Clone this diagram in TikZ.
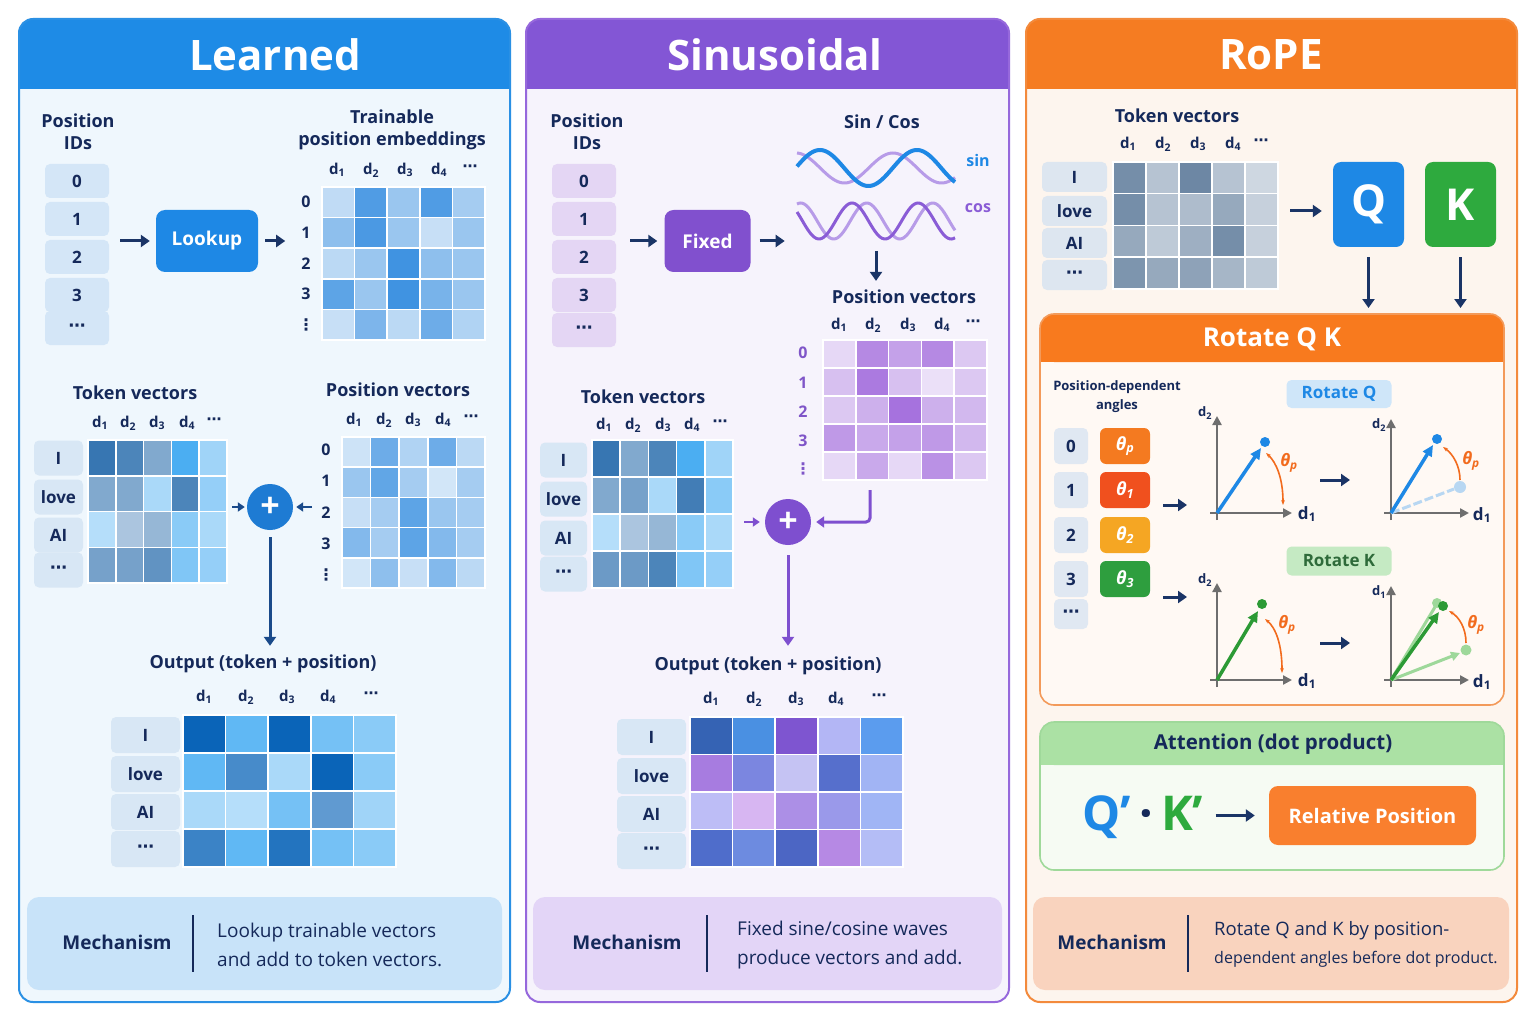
\documentclass[tikz,border=0pt]{standalone}
\usepackage{fontspec}
\setmainfont{Open Sans}
\newfontfamily\symf{DejaVu Sans}
\usetikzlibrary{arrows.meta,calc}

\definecolor{navy}{HTML}{15295A}
\definecolor{arrnavy}{HTML}{1A3466}
\definecolor{lhead}{HTML}{1E8BE6}
\definecolor{lborder}{HTML}{2A90E4}
\definecolor{lpanel}{HTML}{EFF7FD}
\definecolor{lproc}{HTML}{1E88E5}
\definecolor{lplus}{HTML}{1E7BD3}
\definecolor{larrow}{HTML}{1A4A8A}
\definecolor{idL}{HTML}{D4E6F7}
\definecolor{tokbox}{HTML}{D8E7F5}
\definecolor{mechL}{HTML}{C8E3F9}
\definecolor{phead}{HTML}{8356D5}
\definecolor{pborder}{HTML}{9668DC}
\definecolor{ppanel}{HTML}{F6F3FC}
\definecolor{pproc}{HTML}{8150CE}
\definecolor{idP}{HTML}{E4D6F4}
\definecolor{ppl}{HTML}{7E4FCF}
\definecolor{prow}{HTML}{7F55C8}
\definecolor{mechP}{HTML}{E3D5F7}
\definecolor{sinblue}{HTML}{1E88E5}
\definecolor{wlight}{HTML}{B79BE8}
\definecolor{wdark}{HTML}{8A5CD6}
\definecolor{rhead}{HTML}{F57C22}
\definecolor{rborder}{HTML}{F38A3C}
\definecolor{rpanel}{HTML}{FDF5EE}
\definecolor{rtokbox}{HTML}{DDE6F0}
\definecolor{qblue}{HTML}{1E88E5}
\definecolor{kgreen}{HTML}{2EAA3E}
\definecolor{rotbody}{HTML}{FFF9F4}
\definecolor{rothead}{HTML}{F87A1E}
\definecolor{rotborder}{HTML}{F39A5A}
\definecolor{ridbox}{HTML}{E0E8F2}
\definecolor{th0}{HTML}{F47A20}
\definecolor{th1}{HTML}{F0501E}
\definecolor{th2}{HTML}{F5A623}
\definecolor{th3}{HTML}{2E9E3E}
\definecolor{rqfill}{HTML}{CFE6F9}
\definecolor{rkfill}{HTML}{C5EAC3}
\definecolor{rktext}{HTML}{2E6B3A}
\definecolor{axgrey}{HTML}{6E6E6E}
\definecolor{thorange}{HTML}{F26B1D}
\definecolor{qfaint}{HTML}{B8D7F2}
\definecolor{kdark}{HTML}{2C9A35}
\definecolor{kfaint}{HTML}{9ED89A}
\definecolor{atthead}{HTML}{ABE1A4}
\definecolor{attbody}{HTML}{F6FBF3}
\definecolor{attborder}{HTML}{9FD99A}
\definecolor{relorange}{HTML}{F97F2E}
\definecolor{mechR}{HTML}{F9D3BE}
% heat-map base colours
\definecolor{d}{HTML}{1E80DC}
\definecolor{s}{HTML}{2D6FAE}
\definecolor{b}{HTML}{2BA0F0}
\definecolor{o}{HTML}{0A64B8}
\definecolor{p}{HTML}{9C62DA}
\definecolor{g}{HTML}{5D7A9A}
% sinusoidal output colours
\definecolor{so0}{HTML}{3563B4}\definecolor{so1}{HTML}{4A90E2}\definecolor{so2}{HTML}{7E55D0}\definecolor{so3}{HTML}{B3B6F5}\definecolor{so4}{HTML}{5B9CEE}
\definecolor{so5}{HTML}{A77CE0}\definecolor{so6}{HTML}{7B86E0}\definecolor{so7}{HTML}{C5C3F3}\definecolor{so8}{HTML}{566FCC}\definecolor{so9}{HTML}{A1B4F4}
\definecolor{so10}{HTML}{BDBDF6}\definecolor{so11}{HTML}{D7B6F2}\definecolor{so12}{HTML}{AC8FE6}\definecolor{so13}{HTML}{9A99EA}\definecolor{so14}{HTML}{A0B5F5}
\definecolor{so15}{HTML}{4F6DCB}\definecolor{so16}{HTML}{6D8BE0}\definecolor{so17}{HTML}{4C66C4}\definecolor{so18}{HTML}{B689E4}\definecolor{so19}{HTML}{B4BDF6}

\newcommand\dsub[1]{d\textsubscript{#1}}
\newcommand\vdt{{\symf\bfseries ⋮}}
\newcommand\hdt{{\symf\bfseries ⋯}}

% heat grid: name, x0, y0, w, h, ncols, nrows, colour list
\newcommand\heat[8]{%
  \node[inner sep=0, outer sep=0, minimum width=#4, minimum height=#5, anchor=north west] (#1) at (#2,#3) {};
  \foreach \c [count=\i from 0] in {#8} {%
    \pgfmathtruncatemacro\cc{mod(\i,#6)}%
    \pgfmathtruncatemacro\rr{div(\i,#6)}%
    \filldraw[fill=\c, draw=white, line width=1.5] ({#2+\cc*#4/#6},{#3+\rr*#5/#7}) rectangle ++({#4/#6},{#5/#7});
  }}
% column labels: name, y, x1..x5
\newcommand\dcols[7]{%
  \node[dlab] (#1-1) at (#3,#2) {\dsub1};
  \node[dlab] (#1-2) at (#4,#2) {\dsub2};
  \node[dlab] (#1-3) at (#5,#2) {\dsub3};
  \node[dlab] (#1-4) at (#6,#2) {\dsub4};
  \node[dlab] (#1-5) at (#7,{#2-2}) {\hdt};}
% panel: x1, x2, fill, header, border
\newcommand\mypanel[5]{%
  \fill[#3, rounded corners=14] (#1,19) rectangle (#2,1002);
  \fill[#4, rounded corners=14] (#1,19) rectangle (#2,89);
  \fill[#4] (#1,70) rectangle (#2,89);
  \draw[#5, line width=2, rounded corners=14] (#1,19) rectangle (#2,1002);}

\tikzset{
  title/.style={font=\fontsize{42}{48}\selectfont\bfseries, text=white, inner sep=0},
  lbl/.style={font=\fontsize{18}{22}\selectfont\bfseries, text=navy, align=center, inner sep=0},
  dlab/.style={font=\fontsize{15}{18}\selectfont\bfseries, text=navy, inner sep=0},
  rlab/.style={font=\fontsize{16}{18}\selectfont\bfseries, text=navy, inner sep=0},
  idbox/.style={rounded corners=5, minimum width=64, minimum height=34, font=\fontsize{17}{20}\selectfont\bfseries, text=navy, inner sep=0},
  proc/.style={rounded corners=9, font=\fontsize{19}{24}\selectfont\bfseries, text=white, inner sep=0},
  darr/.style={draw=arrnavy, line width=3, -{Triangle[length=9pt,width=12pt]}},
  sarr/.style={line width=2.5, -{Triangle[length=7pt,width=9pt]}},
  plusnode/.style={circle, minimum size=46, inner sep=0, text=white, font=\fontsize{34}{34}\selectfont\bfseries},
  mechh/.style={font=\fontsize{19}{23}\selectfont\bfseries, text=navy, inner sep=0},
  mecht/.style={font=\fontsize{19}{29}\selectfont, text=navy, align=left, inner sep=0, anchor=west},
  axis/.style={draw=axgrey, line width=2.2, -{Triangle[length=9pt,width=9pt]}},
  axl/.style={font=\fontsize{17}{20}\selectfont\bfseries, text=navy, inner sep=0},
  axs/.style={font=\fontsize{13}{15}\selectfont\bfseries, text=navy, inner sep=0},
  thl/.style={font=\fontsize{17}{20}\selectfont\bfseries\itshape, text=thorange, inner sep=0},
  thbox/.style={rounded corners=6, minimum width=50, minimum height=36, inner sep=0, text=white, font=\fontsize{18}{20}\selectfont\bfseries\itshape},
  thcurve/.style={draw=thorange, line width=1.6},
}

\begin{document}
\begin{tikzpicture}[x=1pt,y=-1pt]
\useasboundingbox (0,0) rectangle (1536,1024);
\fill[white] (0,0) rectangle (1536,1024);

% ================= PANELS =================
\mypanel{19}{510}{lpanel}{lhead}{lborder}
\mypanel{526}{1009}{ppanel}{phead}{pborder}
\mypanel{1026}{1517}{rpanel}{rhead}{rborder}
\node[title] (t-l) at (275,55) {Learned};
\node[title] (t-s) at (775,55) {Sinusoidal};
\node[title] (t-r) at (1271,55) {RoPE};

% ================= LEARNED =================
\node[lbl] (l-pidt) at (78,132) {Position\\IDs};
\foreach \t/\y [count=\i from 0] in {0/181,1/219,2/257,3/295,\hdt/328}
  \node[idbox, fill=idL] (l-id\i) at (77,\y) {\t};
\node[proc, fill=lproc, minimum width=102, minimum height=62] (l-look) at (207,241) {Lookup};
\coordinate (l-a0) at (120,241);
\draw[darr, shorten >=6] (l-a0) -- (l-look.west);
\draw[darr, shorten <=7] (l-look.east) -- ++(27,0);
\node[lbl] (l-tpet) at (392,130) {Trainable\\position embeddings};
\dcols{l-tc}{170}{337}{371}{405}{439}{470}
\heat{l-tpe}{322}{187}{163}{153}{5}{5}{d!28,d!78,d!45,d!78,d!40, d!50,d!80,d!45,d!25,d!45, d!30,d!45,d!85,d!50,d!45, d!72,d!45,d!85,d!60,d!45, d!25,d!58,d!30,d!65,d!35}
\foreach \t/\y [count=\i] in {0/202,1/233,2/264,3/294}
  \node[rlab] (l-tr\i) at (306,\y) {\t};
\node[rlab] (l-tr5) at (306,325) {\vdt};

\node[lbl] (l-tokt) at (135,393) {Token vectors};
\dcols{l-kc}{423}{100}{128}{157}{187}{214}
\foreach \t/\y [count=\i] in {I/458,love/497,AI/535,\hdt/570}
  \node[idbox, fill=tokbox, minimum width=49, minimum height=35] (l-tk\i) at (58.5,\y) {\t};
\heat{l-tok}{88}{440}{139}{143}{5}{4}{s!95,s!85,s!60,b!85,b!45, s!60,s!60,b!40,s!85,b!50, b!35,s!40,s!50,b!55,b!40, s!65,s!65,s!75,b!60,b!50}

\node[plusnode, fill=lplus] (l-plus) at (270,507) {+};
\draw[sarr, draw=larrow, shorten >=2] ($(l-tok.east|-l-plus)+(5,0)$) -- (l-plus.west);
\draw[sarr, draw=larrow, shorten >=3] ($(l-plus.east)+(19,0)$) -- (l-plus.east);

\node[lbl] (l-post) at (398,390) {Position vectors};
\dcols{l-pc}{420}{354}{384}{413}{443}{471}
\heat{l-pos}{342}{437}{143}{151}{5}{5}{d!22,d!65,d!35,d!65,d!30, d!45,d!70,d!40,d!20,d!40, d!25,d!40,d!72,d!45,d!40, d!55,d!40,d!72,d!55,d!40, d!20,d!50,d!25,d!55,d!30}
\foreach \t/\y [count=\i] in {0/450,1/481,2/513,3/544}
  \node[rlab] (l-pr\i) at (326,\y) {\t};
\node[rlab] (l-pr5) at (326,575) {\vdt};

\node[lbl] (l-outt) at (263,664) {Output (token + position)};
\draw[draw=larrow, line width=3, -{Triangle[length=9pt,width=12pt]}, shorten <=7, shorten >=9] (l-plus.south) -- (l-plus.south |- l-outt.north);
\dcols{l-oc}{697}{204}{246}{287}{328}{371}
\foreach \t/\y [count=\i] in {I/735,love/774,AI/812,\hdt/849}
  \node[idbox, fill=tokbox, minimum width=69, minimum height=36] (l-ok\i) at (145.5,\y) {\t};
\heat{l-out}{183}{715}{213}{152}{5}{4}{o!100,b!75,o!100,b!65,b!55, b!75,o!75,b!40,o!100,b!55, b!40,b!35,b!65,o!65,b!45, o!80,b!75,o!90,b!65,b!55}

\fill[mechL, rounded corners=12] (27,897) rectangle (502,990);
\node[mechh] (l-mech) at (117,942) {Mechanism};
\draw[navy, line width=2] (193,915) -- (193,972);
\node[mecht] (l-mtxt) at (217,945) {Lookup trainable vectors\\and add to token vectors.};

% ================= SINUSOIDAL =================
\node[lbl] (s-pidt) at (587,132) {Position\\IDs};
\foreach \t/\y [count=\i from 0] in {0/181,1/219,2/257,3/295,\hdt/330}
  \node[idbox, fill=idP] (s-id\i) at (584,\y) {\t};
\node[proc, fill=pproc, minimum width=86, minimum height=62] (s-fix) at (707.5,241) {Fixed};
\coordinate (s-a0) at (630,241);
\draw[darr, shorten >=7] (s-a0) -- (s-fix.west);
\draw[darr, shorten <=9] (s-fix.east) -- ++(34,0);
\node[lbl] (s-sct) at (882,122) {Sin / Cos};
% waves
\draw[wlight, line width=3] plot[domain=797:955, samples=90, smooth] (\x,{168-15*sin((\x-797)*3.71+94)});
\draw[sinblue, line width=4] plot[domain=797:955, samples=90, smooth] (\x,{168-18*sin((\x-797)*3.71+5)});
\draw[wlight, line width=3] plot[domain=797:955, samples=90, smooth] (\x,{221-18*sin((\x-797)*5.45+70)});
\draw[wdark, line width=3] plot[domain=797:955, samples=90, smooth] (\x,{221-18*sin((\x-797)*5.45+150)});
\node[font=\fontsize{16}{18}\selectfont\bfseries, text=sinblue, inner sep=0] (s-sin) at (978,161) {sin};
\node[font=\fontsize{16}{18}\selectfont\bfseries, text=wdark, inner sep=0] (s-cos) at (978,208) {cos};
\coordinate (s-wv) at (876,251);
\node[lbl] (s-post) at (904,297) {Position vectors};
\draw[darr, shorten >=9] (s-wv) -- (s-wv |- s-post.north);
\dcols{s-pc}{325}{839}{873}{908}{942}{973}
\heat{s-pos}{823}{340}{164}{140}{5}{5}{p!25,p!75,p!60,p!75,p!35, p!40,p!85,p!40,p!20,p!35, p!35,p!50,p!90,p!50,p!45, p!65,p!55,p!60,p!65,p!45, p!25,p!55,p!25,p!70,p!35}
\foreach \t/\y [count=\i] in {0/353,1/383,2/412,3/441}
  \node[rlab, text=prow] (s-pr\i) at (803,\y) {\t};
\node[rlab, text=prow] (s-pr5) at (803,469) {\vdt};

\node[lbl] (s-tokt) at (643,397) {Token vectors};
\dcols{s-kc}{425}{604}{633}{663}{692}{720}
\foreach \t/\y [count=\i] in {I/460,love/499,AI/538,\hdt/574}
  \node[idbox, fill=tokbox, minimum width=47, minimum height=35] (s-tk\i) at (563.5,\y) {\t};
\heat{s-tok}{592}{440}{141}{148}{5}{4}{s!95,s!60,s!85,b!85,b!45, s!60,s!65,b!40,s!90,b!55, b!35,s!40,s!50,b!55,b!40, s!70,s!70,s!85,b!60,b!50}

\node[plusnode, fill=ppl] (s-plus) at (788,522) {+};
\draw[sarr, draw=ppl, shorten >=5] ($(s-tok.east|-s-plus)+(11,0)$) -- (s-plus.west);
\coordinate (s-e0) at (870,490);
\draw[draw=ppl, line width=3, -{Triangle[length=8pt,width=11pt]}, rounded corners=4, shorten >=5] (s-e0) |- (s-plus.east);

\node[lbl] (s-outt) at (768,666) {Output (token + position)};
\draw[draw=ppl, line width=3, -{Triangle[length=9pt,width=12pt]}, shorten <=10, shorten >=11] (s-plus.south) -- (s-plus.south |- s-outt.north);
\dcols{s-oc}{699}{711}{754}{796}{836}{879}
\foreach \t/\y [count=\i] in {I/737,love/776,AI/814,\hdt/851}
  \node[idbox, fill=tokbox, minimum width=69, minimum height=36] (s-ok\i) at (651.5,\y) {\t};
\heat{s-out}{690}{717}{213}{150}{5}{4}{so0,so1,so2,so3,so4,so5,so6,so7,so8,so9,so10,so11,so12,so13,so14,so15,so16,so17,so18,so19}

\fill[mechP, rounded corners=12] (533,897) rectangle (1002,990);
\node[mechh] (s-mech) at (627,942) {Mechanism};
\draw[navy, line width=2] (707,915) -- (707,972);
\node[mecht] (s-mtxt) at (737,945) {Fixed sine/cosine waves\\produce vectors and add.};

% ================= RoPE =================
\node[lbl] (r-tokt) at (1177,116) {Token vectors};
\dcols{r-kc}{144}{1128}{1163}{1198}{1233}{1261}
\foreach \t/\y [count=\i] in {I/177,love/211,AI/243,\hdt/275}
  \node[idbox, fill=rtokbox, minimum width=65, minimum height=30] (r-tk\i) at (1074.5,\y) {\t};
\heat{r-tok}{1113}{162}{165}{127}{5}{4}{g!85,g!45,g!90,g!45,g!30, g!85,g!45,g!50,g!65,g!35, g!65,g!40,g!60,g!85,g!35, g!80,g!65,g!70,g!55,g!40}

\node[rounded corners=8, minimum width=71, minimum height=85, inner sep=0, fill=qblue, text=white, font=\fontsize{44}{48}\selectfont\bfseries] (r-q) at (1368.5,204.5) {Q};
\node[rounded corners=8, minimum width=71, minimum height=85, inner sep=0, fill=kgreen, text=white, font=\fontsize{44}{48}\selectfont\bfseries] (r-k) at (1460.5,204.5) {K};
\coordinate (r-a0) at (1290,211);
\draw[darr, shorten >=11] (r-a0) -- (r-q.west |- r-a0);

% rotate box
\node[inner sep=0, minimum width=464, minimum height=391, anchor=north west] (r-rot) at (1040,314) {};
\fill[rotbody, rounded corners=14] (1040,314) rectangle (1504,705);
\fill[rothead, rounded corners=14] (1040,314) rectangle (1504,362);
\fill[rothead] (1040,345) rectangle (1504,362);
\draw[rotborder, line width=1.6, rounded corners=14] (1040,314) rectangle (1504,705);
\node[font=\fontsize{26}{30}\selectfont\bfseries, text=white, inner sep=0] (r-rott) at (1272,339) {Rotate Q K};
\draw[darr, shorten <=10, shorten >=6] (r-q.south) -- (r-q.south |- r-rot.north);
\draw[darr, shorten <=10, shorten >=6] (r-k.south) -- (r-k.south |- r-rot.north);

\node[font=\fontsize{13}{19}\selectfont\bfseries, text=navy, align=center, inner sep=0] (r-pda) at (1117,397) {Position-dependent\\angles};
\foreach \t/\y [count=\i] in {0/446,1/490,2/535,3/579}
  \node[idbox, fill=ridbox, minimum width=34, minimum height=36] (r-id\i) at (1071,\y) {\t};
\node[idbox, fill=ridbox, minimum width=34, minimum height=30] (r-id5) at (1071,614) {\hdt};
\node[thbox, fill=th0] (r-th0) at (1125,446) {θ\textsubscript{p}};
\node[thbox, fill=th1] (r-th1) at (1125,490) {θ\textsubscript{1}};
\node[thbox, fill=th2] (r-th2) at (1125,535) {θ\textsubscript{2}};
\node[thbox, fill=th3] (r-th3) at (1125,579) {θ\textsubscript{3}};
\coordinate (r-a1) at (1163,505);
\coordinate (r-a2) at (1163,597);
\draw[darr] (r-a1) -- ++(24,0);
\draw[darr] (r-a2) -- ++(24,0);

\node[rounded corners=5, fill=rqfill, minimum width=105, minimum height=28, inner sep=0, text=qblue, font=\fontsize{17}{20}\selectfont\bfseries] (r-rq) at (1339,394) {Rotate Q};
\node[rounded corners=5, fill=rkfill, minimum width=105, minimum height=29, inner sep=0, text=rktext, font=\fontsize{17}{20}\selectfont\bfseries] (r-rk) at (1339,561) {Rotate K};

% plot 1 (Q before)
\coordinate (p1) at (1217,513);
\draw[axis] ($(p1)+(-7,0)$) -- (1292,513);
\draw[axis] ($(p1)+(0,7)$) -- (1217,416);
\node[axs] (p1-y) at (1205,413) {\dsub2};
\node[axl] (p1-x) at (1307,514) {\dsub1};
\draw[qblue, line width=3.5, -{Triangle[length=11pt,width=10pt]}] (p1) -- (1261,448);
\fill[qblue] (1265,442) circle (5);
\draw[thcurve, {Stealth[length=5pt]}-{Stealth[length=5pt]}] (1283,505) .. controls (1283,478) and (1276,462) .. (1266,453);
\node[thl] (p1-t) at (1289,463) {θ\textsubscript{p}};
\coordinate (r-a3) at (1320,480);
\draw[darr] (r-a3) -- ++(30,0);

% plot 2 (Q after)
\coordinate (p2) at (1391,513);
\draw[axis] ($(p2)+(-7,0)$) -- (1469,513);
\draw[axis] ($(p2)+(0,7)$) -- (1391,419);
\node[axs] (p2-y) at (1379,425) {\dsub2};
\node[axl] (p2-x) at (1482,515) {\dsub1};
\draw[qfaint, line width=3, dashed, dash pattern=on 9pt off 3pt] (p2) -- (1454,489);
\fill[qfaint] (1460,487) circle (6);
\draw[qblue, line width=3.5, -{Triangle[length=11pt,width=10pt]}] (p2) -- (1433,445);
\fill[qblue] (1437,439) circle (5);
\draw[thcurve, -{Stealth[length=5pt]}] (1460,480) .. controls (1460,466) and (1453,454) .. (1443,447);
\node[thl] (p2-t) at (1471,461) {θ\textsubscript{p}};

% plot 3 (K before)
\coordinate (p3) at (1217,680);
\draw[axis] ($(p3)+(-7,0)$) -- (1292,680);
\draw[axis] ($(p3)+(0,7)$) -- (1217,583);
\node[axs] (p3-y) at (1205,580) {\dsub2};
\node[axl] (p3-x) at (1307,681) {\dsub1};
\draw[kdark, line width=3.5, -{Triangle[length=11pt,width=10pt]}] (p3) -- (1258,611);
\fill[kdark] (1262,604) circle (5);
\draw[thcurve, {Stealth[length=5pt]}-{Stealth[length=5pt]}] (1282,673) .. controls (1282,645) and (1276,628) .. (1265,619);
\node[thl] (p3-t) at (1287,625) {θ\textsubscript{p}};
\coordinate (r-a4) at (1320,643);
\draw[darr] (r-a4) -- ++(30,0);

% plot 4 (K after)
\coordinate (p4) at (1391,680);
\draw[axis] ($(p4)+(-7,0)$) -- (1469,680);
\draw[axis] ($(p4)+(0,7)$) -- (1391,586);
\node[axs] (p4-y) at (1379,592) {\dsub1};
\node[axl] (p4-x) at (1482,682) {\dsub1};
\draw[kfaint, line width=3, -{Triangle[length=9pt,width=9pt]}] (p4) -- (1460,653);
\fill[kfaint] (1466,650) circle (5.5);
\draw[kfaint, line width=3] (p4) -- (1435,607);
\fill[kfaint] (1437,603) circle (5);
\draw[kdark, line width=3.5, -{Triangle[length=11pt,width=10pt]}] (p4) -- (1439,612);
\fill[kdark] (1443,606) circle (5);
\draw[thcurve, -{Stealth[length=5pt]}] (1466,643) .. controls (1466,628) and (1459,617) .. (1449,611);
\node[thl] (p4-t) at (1476,625) {θ\textsubscript{p}};

% attention
\fill[attbody, rounded corners=14] (1040,722) rectangle (1504,870);
\fill[atthead, rounded corners=14] (1040,722) rectangle (1504,765);
\fill[atthead] (1040,750) rectangle (1504,765);
\draw[attborder, line width=1.6, rounded corners=14] (1040,722) rectangle (1504,870);
\node[font=\fontsize{20.5}{24}\selectfont\bfseries, text=navy, inner sep=0] (r-attt) at (1273,744) {Attention (dot product)};
\node[font=\fontsize{48}{52}\selectfont\bfseries, inner sep=0] (r-qk) at (1143,817) {{\color{qblue}Q’}\,{\color{navy}·}\,{\color{kgreen}K’}};
\node[rounded corners=9, fill=relorange, minimum width=207, minimum height=59, inner sep=0, text=white, font=\fontsize{20}{24}\selectfont\bfseries] (r-rel) at (1372.5,815.5) {Relative Position};
\draw[darr, shorten <=12, shorten >=14] (r-qk.east |- r-rel) -- (r-rel.west);

\fill[mechR, rounded corners=12] (1033,897) rectangle (1509,990);
\node[mechh] (r-mech) at (1112,942) {Mechanism};
\draw[navy, line width=2] (1188,915) -- (1188,972);
\node[mecht, font=\fontsize{18.5}{24}\selectfont] (r-mt1) at (1214,931) {Rotate Q and K by position-};
\node[mecht, font=\fontsize{16}{20}\selectfont] (r-mt2) at (1214,959) {dependent angles before dot product.};
\end{tikzpicture}
\end{document}
